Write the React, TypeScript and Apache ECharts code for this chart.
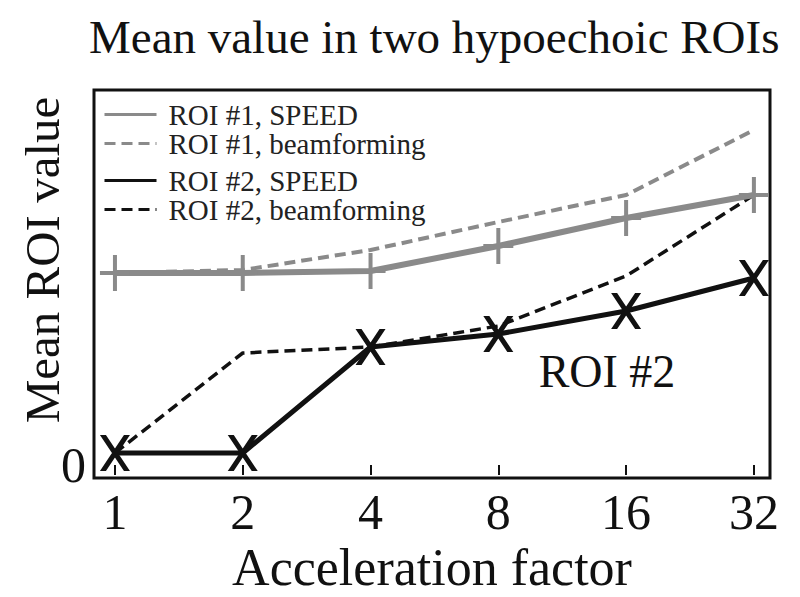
import React, { useEffect, useRef } from "react";
import * as echarts from "echarts";

const categories = ["1", "2", "4", "8", "16", "32"];
const roi1Speed = [19.2, 19.2, 19.4, 21.9, 24.7, 27.0];
const roi1Beam = [19.2, 19.5, 21.5, 24.3, 27.0, 33.5];
const roi2Speed = [1.2, 1.2, 11.8, 13.1, 15.4, 18.7];
const roi2Beam = [1.2, 11.2, 11.8, 13.9, 18.9, 27.0];
const yTickValues = [0];
const seriesNames = [
  "ROI #1, SPEED",
  "ROI #1, beamforming",
  "ROI #2, SPEED",
  "ROI #2, beamforming",
];

const FONT = '"Liberation Serif", "Times New Roman", serif';
const GRAY = "#8a8a8a";
const BLACK = "#111111";
const PLUS = "path://M13,0H17V16H30V20H17V36H13V20H0V16H13Z";
const CROSS = "path://M0,0L6,0L30,36L24,36Z M24,0L30,0L6,36L0,36Z";

const toPoints = (arr: number[]) => arr.map((v, i) => [i, v]);

export default function App() {
  const ref = useRef<HTMLDivElement>(null);
  useEffect(() => {
    if (!ref.current) return;
    const chart = echarts.init(ref.current, undefined, { renderer: "svg" });
    const legendCommon = {
      orient: "vertical" as const,
      left: 103,
      padding: 0,
      itemWidth: 52,
      itemHeight: 14,
      itemGap: 0,
      itemStyle: { opacity: 0 },
      lineStyle: { width: 3 },
      textStyle: {
        fontFamily: FONT,
        fontSize: 29,
        color: "#222",
        lineHeight: 28,
        padding: [0, 0, 0, 7],
      },
      selectedMode: false,
    };
    chart.setOption({
      animation: false,
      backgroundColor: "#fff",
      title: {
        text: "Mean value in two hypoechoic ROIs",
        left: 84,
        top: 8,
        textStyle: { fontFamily: FONT, fontSize: 47, fontWeight: "normal", color: "#111" },
      },
      legend: [
        { ...legendCommon, top: 100, data: [seriesNames[0], seriesNames[1]] },
        { ...legendCommon, top: 166, data: [seriesNames[2], seriesNames[3]] },
      ],
      grid: {
        left: 94,
        right: 30,
        top: 90,
        bottom: 119,
        outerBoundsMode: "none",
        containLabel: false,
        show: true,
        borderColor: "#111",
        borderWidth: 3,
        backgroundColor: "transparent",
      },
      xAxis: {
        type: "value",
        min: -0.164,
        max: 5.126,
        name: "Acceleration factor",
        nameLocation: "middle",
        nameGap: 85,
        nameTextStyle: { fontFamily: FONT, fontSize: 52, color: "#111", verticalAlign: "middle" },
        axisLine: { show: false },
        splitLine: { show: false },
        axisTick: {
          show: true,
          customValues: [0, 1, 2, 3, 4, 5],
          length: 10,
          lineStyle: { color: "#111", width: 2 },
        },
        axisLabel: {
          customValues: [0, 1, 2, 3, 4, 5],
          formatter: (v: number) => categories[Math.round(v)],
          fontFamily: FONT,
          fontSize: 50,
          color: "#111",
          margin: 34,
          verticalAlign: "middle",
        },
      },
      yAxis: {
        type: "value",
        min: -1.3,
        max: 37.5,
        axisLine: { show: false },
        axisTick: { show: false },
        splitLine: { show: false },
        axisLabel: {
          customValues: yTickValues,
          fontFamily: FONT,
          fontSize: 50,
          color: "#111",
          margin: 8,
          verticalAlign: "middle",
        },
      },
      graphic: [
        {
          type: "text",
          x: 42,
          y: 260,
          rotation: Math.PI / 2,
          style: {
            text: "Mean ROI value",
            align: "center",
            verticalAlign: "middle",
            fontFamily: FONT,
            fontSize: 49,
            fill: "#111",
          },
        },
        {
          type: "text",
          style: {
            x: 607,
            y: 371,
            text: "ROI #2",
            align: "center",
            verticalAlign: "middle",
            fontFamily: FONT,
            fontSize: 46,
            fill: "#111",
          },
        },
      ],
      series: [
        {
          name: seriesNames[0],
          type: "line",
          z: 4,
          data: toPoints(roi1Speed),
          color: GRAY,
          symbol: PLUS,
          symbolSize: [30, 36],
          lineStyle: { color: GRAY, width: 6 },
          itemStyle: { color: GRAY },
        },
        {
          name: seriesNames[1],
          type: "line",
          z: 3,
          data: toPoints(roi1Beam),
          color: GRAY,
          showSymbol: false,
          symbol: "none",
          lineStyle: { color: GRAY, width: 4, type: [11, 6] },
        },
        {
          name: seriesNames[2],
          type: "line",
          z: 4,
          data: toPoints(roi2Speed),
          color: BLACK,
          symbol: CROSS,
          symbolSize: [30, 36],
          lineStyle: { color: BLACK, width: 5 },
          itemStyle: { color: BLACK },
        },
        {
          name: seriesNames[3],
          type: "line",
          z: 3,
          data: toPoints(roi2Beam),
          color: BLACK,
          showSymbol: false,
          symbol: "none",
          lineStyle: { color: BLACK, width: 3.5, type: [11, 6] },
        },
      ],
    });
    return () => chart.dispose();
  }, []);
  return (
    <div
      ref={ref}
      style={{ position: "fixed", left: 0, top: 0, width: 800, height: 597 }}
    />
  );
}
